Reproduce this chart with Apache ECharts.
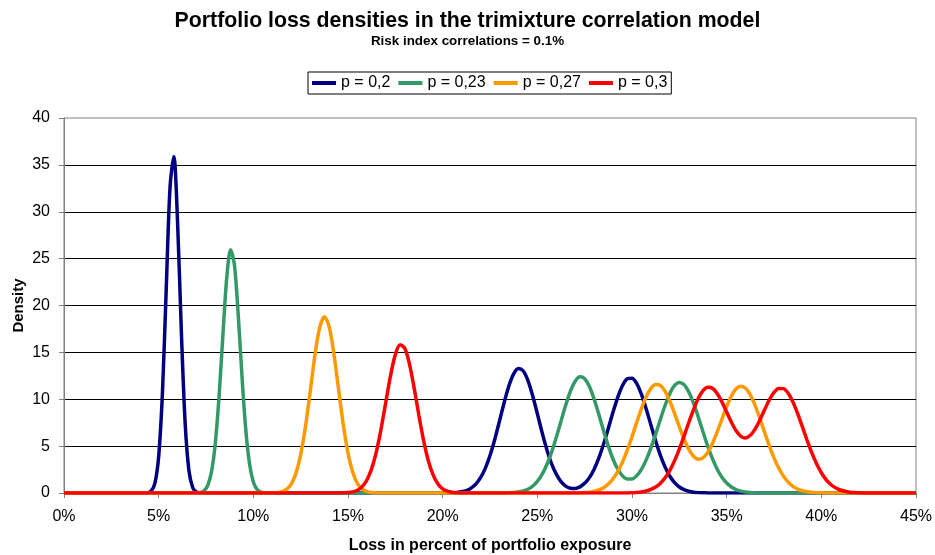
<!DOCTYPE html>
<html>
<head>
<meta charset="utf-8">
<script src="https://cdn.jsdelivr.net/npm/echarts@6/dist/echarts.min.js"></script>
<style>
  html, body { margin: 0; padding: 0; background: #fff; }
  #chart { width: 935px; height: 555px; }
</style>
</head>
<body>
<div id="chart"></div>
<script>
// Loss (% of portfolio exposure) vs density, one list of [loss, density] pairs per p
const seriesNames = ['p = 0,2', 'p = 0,23', 'p = 0,27', 'p = 0,3'];
const seriesColors = ['#000080', '#339966', '#FF9900', '#FF0000'];
const xTicks = { min: 0, max: 45, step: 5 };
const yTicks = { min: 0, max: 40, step: 5 };

const densityP020 = [
  [0, 0], [4.2, 0], [4.4, 0.03], [4.6, 0.2], [4.8, 1.02], [5.0, 3.88], [5.2, 10.7],
  [5.4, 21.8], [5.6, 32.6], [5.8, 35.9], [6.0, 28.8], [6.2, 17.1], [6.4, 7.4],
  [6.6, 2.37], [6.8, 0.56], [7.0, 0.1], [7.2, 0.01], [7.4, 0], [20.0, 0],
  [20.25, 0.01], [20.5, 0.02], [20.75, 0.06], [21.0, 0.13], [21.25, 0.26], [21.5, 0.52],
  [21.75, 0.94], [22.0, 1.63], [22.25, 2.63], [22.5, 4.0], [22.75, 5.71], [23.0, 7.67],
  [23.25, 9.66], [23.5, 11.44], [23.75, 12.71], [24.0, 13.28], [24.25, 13.04], [24.5, 12.02],
  [24.75, 10.41], [25.0, 8.47], [25.25, 6.47], [25.5, 4.65], [25.75, 3.13], [26.0, 2.01],
  [26.25, 1.22], [26.5, 0.74], [26.75, 0.51], [27.0, 0.48], [27.25, 0.65], [27.5, 1.03],
  [27.75, 1.64], [28.0, 2.54], [28.25, 3.75], [28.5, 5.23], [28.75, 6.9], [29.0, 8.63],
  [29.25, 10.23], [29.5, 11.47], [29.75, 12.18], [30.0, 12.25], [30.25, 11.66], [30.5, 10.51],
  [30.75, 8.97], [31.0, 7.25], [31.25, 5.55], [31.5, 4.02], [31.75, 2.76], [32.0, 1.79],
  [32.25, 1.1], [32.5, 0.64], [32.75, 0.35], [33.0, 0.19], [33.25, 0.09], [33.5, 0.04],
  [33.75, 0.02], [34.0, 0.01], [34.25, 0], [45, 0]
];

const densityP023 = [
  [0, 0], [6.8, 0], [7.0, 0.01], [7.2, 0.06], [7.4, 0.25], [7.6, 0.85], [7.8, 2.36],
  [8.0, 5.47], [8.2, 10.59], [8.4, 17.11], [8.6, 23.07], [8.8, 25.95], [9.0, 24.35],
  [9.2, 19.07], [9.4, 12.46], [9.6, 6.8], [9.8, 3.09], [10.0, 1.17], [10.2, 0.37],
  [10.4, 0.1], [10.6, 0.02], [10.8, 0], [23.25, 0], [23.5, 0.02], [23.75, 0.05],
  [24.0, 0.11], [24.25, 0.21], [24.5, 0.4], [24.75, 0.72], [25.0, 1.23], [25.25, 1.98],
  [25.5, 3.01], [25.75, 4.34], [26.0, 5.93], [26.25, 7.66], [26.5, 9.38], [26.75, 10.87],
  [27.0, 11.92], [27.25, 12.39], [27.5, 12.19], [27.75, 11.35], [28.0, 10.01], [28.25, 8.37],
  [28.5, 6.63], [28.75, 5.0], [29.0, 3.6], [29.25, 2.54], [29.5, 1.83], [29.75, 1.49],
  [30.0, 1.49], [30.25, 1.85], [30.5, 2.53], [30.75, 3.53], [31.0, 4.81], [31.25, 6.29],
  [31.5, 7.86], [31.75, 9.36], [32.0, 10.62], [32.25, 11.47], [32.5, 11.8], [32.75, 11.56],
  [33.0, 10.78], [33.25, 9.58], [33.5, 8.1], [33.75, 6.53], [34.0, 5.0], [34.25, 3.66],
  [34.5, 2.54], [34.75, 1.68], [35.0, 1.06], [35.25, 0.64], [35.5, 0.36], [35.75, 0.2],
  [36.0, 0.1], [36.25, 0.05], [36.5, 0.02], [36.75, 0.01], [37.0, 0], [45, 0]
];

const densityP027 = [
  [0, 0], [10.75, 0], [11.0, 0.01], [11.25, 0.04], [11.5, 0.14], [11.75, 0.38],
  [12.0, 0.95], [12.25, 2.09], [12.5, 4.07], [12.75, 7.03], [13.0, 10.77], [13.25, 14.63],
  [13.5, 17.61], [13.75, 18.8], [14.0, 17.78], [14.25, 14.91], [14.5, 11.09], [14.75, 7.31],
  [15.0, 4.27], [15.25, 2.21], [15.5, 1.01], [15.75, 0.41], [16.0, 0.15], [16.25, 0.05],
  [16.5, 0.01], [16.75, 0], [26.75, 0], [27.0, 0.01], [27.25, 0.02], [27.5, 0.05],
  [27.75, 0.09], [28.0, 0.18], [28.25, 0.33], [28.5, 0.57], [28.75, 0.95], [29.0, 1.52],
  [29.25, 2.3], [29.5, 3.31], [29.75, 4.57], [30.0, 6.0], [30.25, 7.53], [30.5, 9.0],
  [30.75, 10.26], [31.0, 11.16], [31.25, 11.58], [31.5, 11.47], [31.75, 10.85], [32.0, 9.8],
  [32.25, 8.47], [32.5, 7.06], [32.75, 5.73], [33.0, 4.65], [33.25, 3.92], [33.5, 3.6],
  [33.75, 3.74], [34.0, 4.33], [34.25, 5.28], [34.5, 6.51], [34.75, 7.88], [35.0, 9.22],
  [35.25, 10.34], [35.5, 11.12], [35.75, 11.4], [36.0, 11.18], [36.25, 10.46], [36.5, 9.35],
  [36.75, 7.98], [37.0, 6.5], [37.25, 5.05], [37.5, 3.75], [37.75, 2.66], [38.0, 1.8],
  [38.25, 1.16], [38.5, 0.71], [38.75, 0.42], [39.0, 0.24], [39.25, 0.13], [39.5, 0.07],
  [39.75, 0.03], [40.0, 0.02], [40.25, 0.01], [40.5, 0], [45, 0]
];

const densityP030 = [
  [0, 0], [14.5, 0], [14.75, 0.02], [15.0, 0.05], [15.25, 0.12], [15.5, 0.3], [15.75, 0.68],
  [16.0, 1.39], [16.25, 2.6], [16.5, 4.42], [16.75, 6.87], [17.0, 9.73], [17.25, 12.55],
  [17.5, 14.76], [17.75, 15.81], [18.0, 15.43], [18.25, 13.72], [18.5, 11.13], [18.75, 8.22],
  [19.0, 5.53], [19.25, 3.39], [19.5, 1.9], [19.75, 0.97], [20.0, 0.45], [20.25, 0.19],
  [20.5, 0.07], [20.75, 0.03], [21.0, 0], [29.75, 0], [30.0, 0.03], [30.25, 0.06],
  [30.5, 0.11], [30.75, 0.21], [31.0, 0.38], [31.25, 0.64], [31.5, 1.05], [31.75, 1.63],
  [32.0, 2.42], [32.25, 3.45], [32.5, 4.68], [32.75, 6.07], [33.0, 7.52], [33.25, 8.9],
  [33.5, 10.08], [33.75, 10.91], [34.0, 11.29], [34.25, 11.18], [34.5, 10.62], [34.75, 9.72],
  [35.0, 8.63], [35.25, 7.54], [35.5, 6.63], [35.75, 6.04], [36.0, 5.87], [36.25, 6.15],
  [36.5, 6.82], [36.75, 7.77], [37.0, 8.87], [37.25, 9.92], [37.5, 10.73], [37.75, 11.16],
  [38.0, 11.13], [38.25, 10.63], [38.5, 9.7], [38.75, 8.46], [39.0, 7.05], [39.25, 5.62],
  [39.5, 4.27], [39.75, 3.11], [40.0, 2.16], [40.25, 1.43], [40.5, 0.91], [40.75, 0.55],
  [41.0, 0.32], [41.25, 0.18], [41.5, 0.09], [41.75, 0.05], [42.0, 0.02], [42.25, 0.01],
  [42.5, 0], [45, 0]
];

const seriesData = [densityP020, densityP023, densityP027, densityP030];

const FONT = '"Liberation Sans", Arial, sans-serif';
const chart = echarts.init(document.getElementById('chart'), null, { renderer: 'canvas' });

chart.setOption({
  animation: false,
  backgroundColor: '#fff',
  textStyle: { fontFamily: FONT, color: '#000' },
  title: [
    {
      text: 'Portfolio loss densities in the trimixture correlation model',
      left: 'center', top: 11, padding: 0,
      textStyle: { fontFamily: FONT, fontSize: 21.3, fontWeight: 'bold', color: '#000' }
    },
    {
      text: 'Risk index correlations = 0.1%',
      left: 'center', top: 35, padding: 0,
      textStyle: { fontFamily: FONT, fontSize: 13.4, fontWeight: 'bold', color: '#000' }
    }
  ],
  legend: {
    data: seriesNames,
    left: 308, top: 72,
    orient: 'horizontal',
    icon: 'rect',
    itemWidth: 24, itemHeight: 4, itemGap: 8,
    padding: [3, 4],
    borderColor: '#000', borderWidth: 1,
    textStyle: { fontFamily: FONT, fontSize: 16, color: '#000' }
  },
  grid: {
    left: 64, right: 19, top: 118, bottom: 62,
    show: true, borderColor: '#808080', borderWidth: 1,
    containLabel: false, outerBoundsMode: 'none'
  },
  xAxis: {
    type: 'value',
    min: xTicks.min, max: xTicks.max, interval: xTicks.step,
    name: 'Loss in percent of portfolio exposure',
    nameLocation: 'middle', nameGap: 45, nameMoveOverlap: false,
    nameTextStyle: { fontFamily: FONT, fontSize: 16, fontWeight: 'bold', color: '#000' },
    axisLine: { show: true, onZero: false, lineStyle: { color: '#808080', width: 1 } },
    axisTick: { show: true, length: 5, inside: false, lineStyle: { color: '#808080' } },
    axisLabel: { formatter: '{value}%', fontFamily: FONT, fontSize: 16, color: '#000', margin: 16 },
    splitLine: { show: false }
  },
  yAxis: {
    type: 'value',
    min: yTicks.min, max: yTicks.max, interval: yTicks.step,
    name: 'Density',
    nameLocation: 'middle', nameGap: 38, nameRotate: 90, nameMoveOverlap: false,
    nameTextStyle: { fontFamily: FONT, fontSize: 15, fontWeight: 'bold', color: '#000' },
    axisLine: { show: true, lineStyle: { color: '#808080', width: 1 } },
    axisTick: { show: true, length: 5, inside: false, lineStyle: { color: '#808080' } },
    axisLabel: { fontFamily: FONT, fontSize: 16, color: '#000', margin: 14 },
    splitLine: { show: true, showMaxLine: false, lineStyle: { color: '#000', width: 1 } }
  },
  series: seriesNames.map((name, i) => ({
    name,
    type: 'line',
    data: seriesData[i],
    symbol: 'none',
    showSymbol: false,
    smooth: 0.3,
    clip: true,
    color: seriesColors[i],
    lineStyle: { color: seriesColors[i], width: 3.5 },
    emphasis: { disabled: true },
    z: 2 + i
  }))
});
</script>
</body>
</html>
